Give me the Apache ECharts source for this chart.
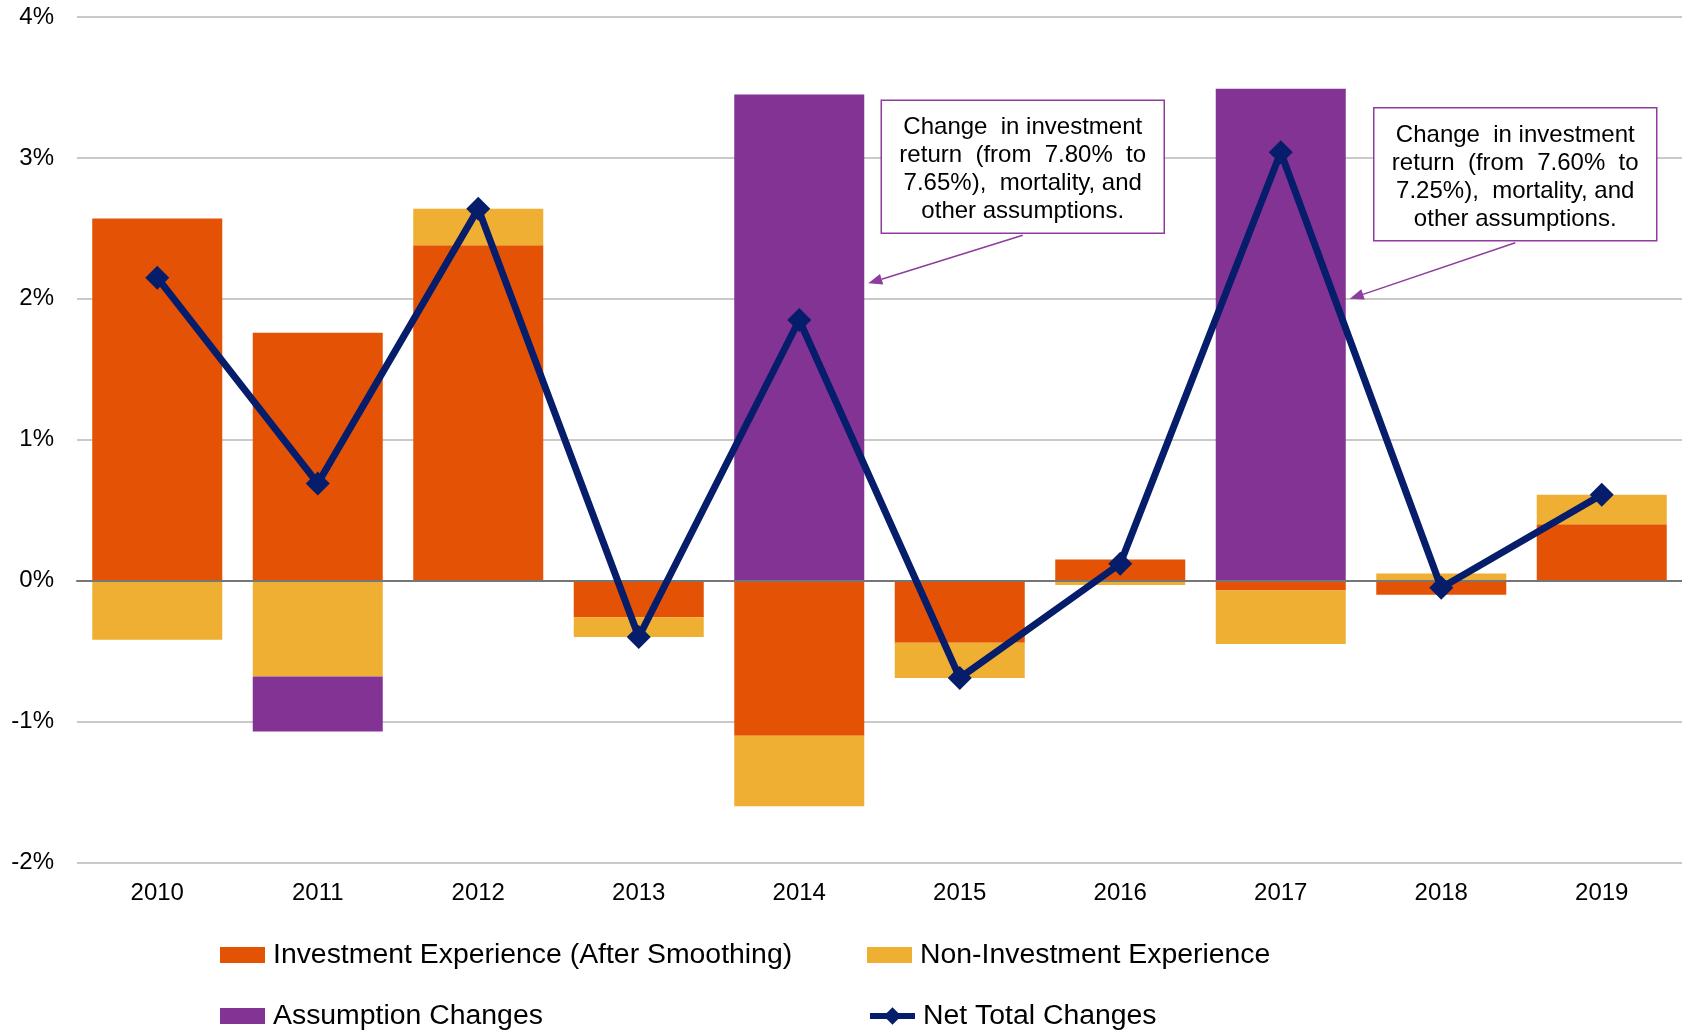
<!DOCTYPE html>
<html>
<head>
<meta charset="utf-8">
<script src="https://cdn.jsdelivr.net/npm/echarts@6/dist/echarts.min.js"></script>
<style>
  html, body { margin: 0; padding: 0; background: #fff; }
  #chart { width: 1682px; height: 1032px; }
</style>
</head>
<body>
<div id="chart"></div>
<script>
// Sources of change in the funded ratio, by plan year (percentage points)
const years = ['2010', '2011', '2012', '2013', '2014', '2015', '2016', '2017', '2018', '2019'];
const investmentExperience = [2.57, 1.76, 2.38, -0.26, -1.10, -0.44, 0.15, -0.07, -0.10, 0.40];
const nonInvestmentExperience = [-0.42, -0.68, 0.26, -0.14, -0.50, -0.25, -0.03, -0.38, 0.05, 0.21];
const assumptionChanges = [null, -0.39, null, null, 3.45, null, null, 3.49, null, null];
const netTotalChanges = [2.15, 0.69, 2.64, -0.40, 1.85, -0.69, 0.12, 3.04, -0.05, 0.61];
const yTicks = [-2, -1, 0, 1, 2, 3, 4];

// Call-out notes pointing at the assumption-change bars
const notes = [
  { year: '2014', value: 2.11, lines: ['Change  in investment', 'return  (from  7.80%  to', '7.65%),  mortality, and', 'other assumptions.'] },
  { year: '2017', value: 2.00, lines: ['Change  in investment', 'return  (from  7.60%  to', '7.25%),  mortality, and', 'other assumptions.'] }
];

const FONT = '"Liberation Sans", Arial, Helvetica, sans-serif';
const COLORS = { inv: '#E35205', nonInv: '#EEAF32', assump: '#833393', net: '#061D6C', note: '#8E3C9E' };
const BAR_WIDTH = 130;

const chart = echarts.init(document.getElementById('chart'), null, { renderer: 'canvas' });

function barSeries(name, data, color) {
  return {
    name, type: 'bar', stack: 'total', data,
    barWidth: BAR_WIDTH,
    itemStyle: { color },
    emphasis: { disabled: true },
    z: 2
  };
}

// one legend block per entry, laid out as a 2 x 2 table
function legendEntry(item, left, top) {
  return {
    left, top, orient: 'horizontal',
    itemWidth: 45, itemHeight: 16, itemGap: 0, selectedMode: false,
    textStyle: { fontSize: 28.4, color: '#000', fontFamily: FONT, padding: [0, 0, 0, 3] },
    data: [item]
  };
}

const option = {
  backgroundColor: '#ffffff',
  animation: false,
  textStyle: { fontFamily: FONT },
  grid: { left: 77, right: 0, top: 17, bottom: 169.5, containLabel: false },
  legend: [
    legendEntry({ name: 'Investment Experience (After Smoothing)', icon: 'rect' }, 215, 936),
    legendEntry({ name: 'Non-Investment Experience', icon: 'rect' }, 862, 936),
    legendEntry({ name: 'Assumption Changes', icon: 'rect' }, 215, 997),
    Object.assign(legendEntry({ name: 'Net Total Changes', itemStyle: { color: COLORS.net }, lineStyle: { color: COLORS.net, width: 6 } }, 862, 997), { itemHeight: 22 })
  ],
  xAxis: [
    {
      type: 'category', data: years, position: 'bottom',
      axisLine: { show: false, onZero: false },
      axisTick: { show: false },
      axisLabel: { fontSize: 24, color: '#000', margin: 19, fontFamily: FONT },
      splitLine: { show: false }
    },
    {
      // zero baseline
      type: 'category', data: years, position: 'top',
      axisLine: { show: true, onZero: true, lineStyle: { color: '#767676', width: 2 } },
      axisTick: { show: false }, axisLabel: { show: false }, splitLine: { show: false },
      z: 3
    }
  ],
  yAxis: {
    type: 'value', min: yTicks[0], max: yTicks[yTicks.length - 1], interval: 1,
    axisLine: { show: false }, axisTick: { show: false },
    axisLabel: { fontSize: 24, color: '#000', margin: 23, formatter: '{value}%', fontFamily: FONT },
    splitLine: { show: true, lineStyle: { color: '#C9C9C9', width: 2 } }
  },
  series: [
    barSeries('Investment Experience (After Smoothing)', investmentExperience, COLORS.inv),
    barSeries('Non-Investment Experience', nonInvestmentExperience, COLORS.nonInv),
    barSeries('Assumption Changes', assumptionChanges, COLORS.assump),
    {
      name: 'Net Total Changes', type: 'line', data: netTotalChanges,
      symbol: 'diamond', symbolSize: 24,
      lineStyle: { color: COLORS.net, width: 7 },
      itemStyle: { color: COLORS.net },
      emphasis: { disabled: true },
      z: 5
    }
  ]
};

chart.setOption(option);

// Call-out boxes with arrows, anchored to the right edge of each bar
function buildNotes() {
  const elements = [];
  notes.forEach(function (note, i) {
    const p = chart.convertToPixel({ xAxisIndex: 0, yAxisIndex: 0 }, [note.year, note.value]);
    const tipX = p[0] + BAR_WIDTH / 2 + 4;
    const tipY = p[1];
    const boxW = 283, boxH = 133;
    const boxX = i === 0 ? tipX + 13 : tipX + 24;
    const boxY = i === 0 ? tipY - 183 : tipY - 191;
    const startX = boxX + boxW / 2;
    const startY = boxY + boxH + 2;
    const ang = Math.atan2(tipY - startY, tipX - startX);
    const headLen = 14, headHalf = 5.5;
    const baseX = tipX - headLen * Math.cos(ang), baseY = tipY - headLen * Math.sin(ang);
    const nx = -Math.sin(ang), ny = Math.cos(ang);
    elements.push({
      type: 'rect', z: 10,
      shape: { x: boxX, y: boxY, width: boxW, height: boxH },
      style: { fill: '#fff', stroke: COLORS.note, lineWidth: 1.5 }
    });
    elements.push({
      type: 'text', z: 11,
      x: boxX + boxW / 2, y: boxY + boxH / 2 + 3,
      style: {
        text: note.lines.join('\n'), fontSize: 24, lineHeight: 28, fontFamily: FONT,
        fill: '#000', align: 'center', verticalAlign: 'middle'
      }
    });
    elements.push({
      type: 'line', z: 10,
      shape: { x1: startX, y1: startY, x2: baseX, y2: baseY },
      style: { stroke: COLORS.note, lineWidth: 1.5 }
    });
    elements.push({
      type: 'polygon', z: 10,
      shape: { points: [[tipX, tipY], [baseX + nx * headHalf, baseY + ny * headHalf], [baseX - nx * headHalf, baseY - ny * headHalf]] },
      style: { fill: COLORS.note }
    });
  });
  chart.setOption({ graphic: { elements } });
}
buildNotes();
</script>
</body>
</html>
